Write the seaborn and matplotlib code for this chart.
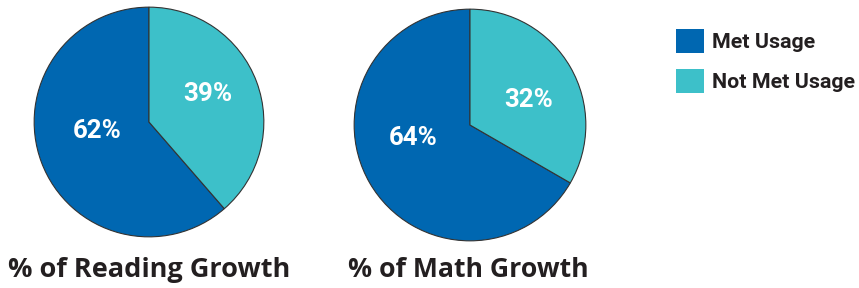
import matplotlib
matplotlib.use("Agg")
import matplotlib.pyplot as plt
import seaborn as sns

# data
categories = ["Met Usage", "Not Met Usage"]
reading_values = [62, 39]
math_values = [64, 32]
chart_titles = ["% of Reading Growth", "% of Math Growth"]

colors = ["#0067B1", "#3DC0C9"]
text_dark = "#231F20"

sns.set_theme(style="white")
plt.rcParams["font.family"] = ["Open Sans", "DejaVu Sans"]
narrow = ["Roboto", "DejaVu Sans"]

fig = plt.figure(figsize=(8.59, 2.88), dpi=100)
W, H = 859, 288
renderer = fig.canvas.get_renderer()


def fit_size(t, target_px):
    # scale the font so the text is target_px wide
    w = t.get_window_extent(renderer).width
    t.set_fontsize(t.get_fontsize() * target_px / w)


# pixel boxes for the two pies: (center x, center y, radius)
pie_boxes = [(149, 122, 116), (470, 125, 117)]
# label offsets in pie radius units (met, not met)
label_pos = [[(-0.45, -0.08), (0.51, 0.24)],
             [(-0.49, -0.11), (0.51, 0.22)]]
title_x = [149, 468]
title_y = [270, 270]
title_w = [282, 240]

wedges_all = []
for i, vals in enumerate([reading_values, math_values]):
    cx, cy, r = pie_boxes[i]
    ax = fig.add_axes([(cx - r) / W, (H - cy - r) / H, 2 * r / W, 2 * r / H])
    wedges, _ = ax.pie(vals, colors=colors, startangle=90, counterclock=True,
                       wedgeprops=dict(edgecolor="#333333", linewidth=0.8))
    wedges_all.append(wedges)
    ax.set_xlim(-1.01, 1.01)
    ax.set_ylim(-1.01, 1.01)
    ax.set_aspect("equal")
    ax.axis("off")
    for (lx, ly), v in zip(label_pos[i], vals):
        t = ax.text(lx, ly, f"{v}%", color="white", fontsize=18, fontweight="bold",
                    family=narrow, ha="center", va="center")
        fit_size(t, 49)
    t = fig.text(title_x[i] / W, (H - title_y[i]) / H, chart_titles[i], color=text_dark,
                 fontsize=19, fontweight="bold", ha="center", va="center")
    fit_size(t, title_w[i])

# legend font sized so "Not Met Usage" is ~143 px wide
probe = fig.text(0, 0, categories[1], fontsize=16, fontweight="bold", family=narrow)
fit_size(probe, 143)
leg_fs = probe.get_fontsize()
probe.remove()
px_per_fs = leg_fs * 100 / 72

fig.legend(wedges_all[0], categories, loc="upper left",
           bbox_to_anchor=(676 / W, 1 - 29 / H), frameon=False,
           handlelength=28 / px_per_fs, handleheight=29 / px_per_fs,
           handletextpad=8 / px_per_fs, labelspacing=16 / px_per_fs,
           borderaxespad=0, borderpad=0,
           prop=dict(size=leg_fs, weight="bold", family=narrow),
           labelcolor=text_dark)

for h in fig.legends[0].legend_handles:
    h.set_edgecolor("none")

fig.savefig("out.png", dpi=100, facecolor="white")
